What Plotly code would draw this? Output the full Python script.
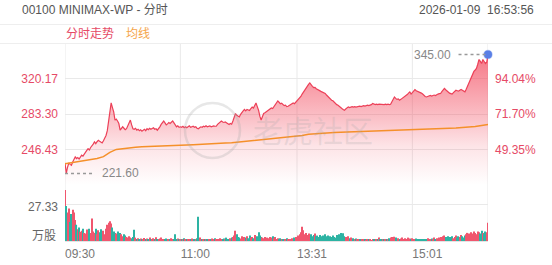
import plotly.graph_objects as go

# ---------------- data ----------------
prev_close = 165.0
price = [
    232.5, 221.6, 228.0, 232.5, 231.0, 230.0, 233.5, 236.0, 238.7, 237.0,
    238.0, 236.5, 239.0, 240.5, 239.5, 242.0, 244.0, 245.5, 247.4, 246.0,
    248.5, 250.0, 252.0, 254.3, 252.5, 254.5, 256.0, 255.0, 254.0, 253.3,
    255.5, 257.8, 261.0, 266.0, 276.9, 286.0, 294.8, 290.0, 285.5, 276.9,
    278.0, 276.0, 273.4, 266.5, 268.5, 270.0, 268.5, 267.0, 268.0, 271.0,
    274.5, 277.0, 272.0, 268.0, 267.5, 268.5, 266.5, 267.5, 266.0, 267.0,
    265.5, 266.5, 267.5, 266.0, 268.0, 267.0, 268.5, 267.5, 268.0, 269.0,
    267.5, 268.0, 266.5, 268.0, 270.0, 272.5, 274.0, 276.0, 274.0, 272.0,
    273.0, 274.5, 273.5, 275.0, 276.0, 274.0, 272.0, 270.0, 271.0, 269.5,
    270.0, 269.5, 270.5, 269.0, 270.0, 269.0, 270.0, 271.0, 269.5, 270.0,
    270.6, 269.5, 270.0, 268.5, 268.0, 269.0, 270.0, 269.5, 270.6, 270.0,
    271.0, 270.0, 270.5, 271.0, 270.0, 270.5, 271.0, 270.6, 270.6, 272.5,
    274.0, 275.5, 276.0, 275.0, 274.5, 275.0, 274.0, 273.0, 272.5, 273.5,
    272.7, 276.0, 280.0, 283.8, 282.0, 281.0, 280.3, 283.0, 285.5, 286.5,
    288.0, 286.5, 288.0, 287.5, 287.0, 289.0, 290.5, 289.5, 292.0, 294.8,
    291.0, 287.2, 281.0, 277.0, 280.5, 283.8, 284.5, 285.5, 286.0, 287.5,
    288.0, 289.5, 289.0, 290.7, 292.5, 294.5, 296.9, 295.5, 294.0, 294.5,
    293.4, 292.0, 292.5, 291.0, 291.4, 292.5, 293.5, 294.0, 294.8, 294.0,
    295.5, 296.5, 297.6, 299.0, 301.5, 304.0, 306.3, 308.0, 310.5, 312.5,
    314.0, 315.6, 313.5, 312.0, 310.8, 311.0, 309.5, 309.0, 308.0, 307.3,
    306.5, 306.0, 305.0, 304.6, 303.0, 301.5, 300.0, 299.0, 297.6, 297.0,
    295.5, 294.0, 293.0, 292.4, 291.0, 290.0, 289.0, 288.0, 287.2, 288.5,
    289.5, 290.7, 290.0, 290.5, 291.0, 290.5, 291.0, 290.5, 291.0, 291.5,
    291.4, 291.0, 291.5, 292.0, 291.5, 292.0, 292.5, 292.0, 292.4, 293.0,
    294.2, 293.5, 293.0, 293.5, 293.0, 293.5, 293.4, 293.0, 293.5, 293.0,
    293.5, 293.0, 293.5, 293.0, 293.4, 296.0, 299.0, 301.0, 299.5, 298.5,
    299.0, 297.6, 298.5, 299.5, 300.0, 301.0, 302.5, 303.5, 305.0, 306.3,
    304.0, 305.5, 307.0, 308.7, 307.5, 307.0, 306.5, 306.3, 305.0, 304.0,
    302.5, 301.5, 301.0, 301.5, 302.0, 302.5, 302.0, 302.8, 303.0, 302.5,
    303.5, 304.0, 304.5, 304.6, 306.5, 308.0, 309.8, 308.5, 307.0, 306.3,
    305.0, 304.5, 304.0, 305.5, 307.0, 308.0, 307.5, 307.0, 308.0, 308.7,
    308.0, 307.5, 306.3, 309.0, 312.0, 315.0, 318.5, 322.0, 325.4, 327.5,
    329.0, 330.6, 335.0, 339.9, 338.0, 335.7, 339.9, 337.5, 335.7, 337.0, 345.0,
]
avg_idx = list(range(0, 331, 5))
avg_val = [
    231.5, 232.5, 233.5, 234.5, 235.5, 237.0, 239.0, 243.5, 246.5, 247.5,
    248.3, 248.8, 249.2, 249.6, 249.9, 250.2, 250.5, 250.8, 251.0, 251.2,
    251.4, 251.6, 251.9, 252.3, 252.7, 253.1, 253.5, 254.2, 255.0, 255.9,
    256.6, 257.0, 257.6, 258.3, 258.9, 259.4, 260.0, 261.0, 262.3, 262.9,
    263.4, 263.8, 264.1, 264.4, 264.6, 264.8, 265.0, 265.2, 265.4, 265.6,
    265.8, 266.0, 266.2, 266.4, 266.5, 266.8, 267.1, 267.4, 267.7, 268.1,
    268.4, 268.7, 269.1, 269.5, 270.3, 271.3, 272.4,
]
volume = [
    37.7, 25.9, 21.0, 24.0, 14.0, 20.0, 23.0, 21.0, 15.5, 12.0,
    8.6, 10.0, 6.9, 7.5, 9.0, 6.0, 5.5, 8.5, 7.0, 9.0,
    6.0, 16.7, 7.0, 6.0, 9.0, 5.0, 8.0, 6.5, 8.6, 6.0,
    7.5, 5.0, 9.0, 12.0, 13.5, 14.5, 13.0, 10.0, 7.0, 6.0,
    5.5, 7.0, 4.5, 6.0, 5.0, 3.5, 5.0, 4.0, 3.0, 2.5,
    3.5, 2.5, 2.0, 3.0, 8.4, 2.5, 1.5, 2.0, 1.2, 1.8,
    1.0, 1.5, 2.2, 1.0, 1.8, 1.2, 2.5, 1.0, 1.5, 2.0,
    1.2, 2.8, 1.5, 1.0, 1.8, 2.5, 1.2, 1.5, 1.0, 1.8,
    1.2, 1.0, 1.5, 2.0, 1.0, 1.5, 5.0, 1.2, 1.8, 1.0,
    1.5, 1.0, 1.2, 2.0, 1.0, 1.5, 0.8, 1.2, 1.0, 1.8,
    1.2, 1.0, 1.5, 2.0, 17.9, 2.5, 1.2, 1.0, 1.5, 0.8,
    1.0, 1.2, 0.8, 1.5, 1.0, 1.8, 1.2, 2.0, 1.0, 1.5,
    1.2, 2.0, 1.5, 1.0, 1.8, 1.2, 2.5, 1.5, 1.0, 2.0,
    2.5, 3.0, 4.0, 7.6, 5.0, 3.0, 2.5, 1.8, 3.5, 2.0,
    3.0, 2.5, 3.5, 2.0, 4.0, 2.5, 3.0, 2.0, 4.5, 3.0,
    3.5, 6.5, 4.0, 3.0, 2.5, 2.0, 3.0, 1.5, 2.5, 2.0,
    3.0, 2.5, 3.5, 2.0, 3.0, 1.5, 2.0, 1.2, 2.0, 1.5,
    1.0, 1.5, 1.2, 2.0, 1.0, 1.5, 1.0, 2.0, 1.5, 2.5,
    3.0, 2.5, 4.0, 5.0, 6.5, 10.6, 8.0, 5.0, 6.0, 4.5,
    5.5, 4.0, 5.0, 3.5, 4.5, 5.5, 3.5, 4.0, 3.0, 4.5,
    3.5, 4.0, 3.0, 5.0, 3.5, 4.0, 2.5, 3.5, 3.0, 4.0,
    3.0, 2.5, 4.5, 3.5, 5.0, 6.0, 4.0, 5.7, 3.5, 3.0,
    2.5, 3.5, 2.0, 2.5, 1.5, 2.0, 1.2, 1.8, 1.0, 1.5,
    1.0, 1.2, 0.8, 1.5, 1.0, 0.6, 1.2, 0.8, 1.0, 0.5,
    0.8, 1.0, 0.6, 1.2, 1.5, 2.5, 1.0, 0.8, 1.2, 1.0,
    0.8, 1.5, 1.0, 2.0, 2.5, 3.0, 2.0, 3.2, 2.5, 1.5,
    2.0, 1.2, 1.8, 2.5, 1.5, 2.0, 1.0, 1.5, 2.5, 1.8,
    1.2, 2.0, 1.5, 1.0, 1.8, 1.2, 1.5, 1.0, 1.2, 1.5,
    1.0, 1.5, 1.2, 2.0, 1.5, 1.0, 1.8, 1.2, 2.5, 1.5,
    2.0, 1.5, 2.5, 3.0, 2.5, 3.5, 4.0, 3.0, 2.5, 3.5,
    3.0, 2.5, 3.5, 2.0, 3.0, 4.0, 2.5, 3.5, 3.0, 4.5,
    3.5, 2.5, 4.0, 5.0, 6.0, 5.5, 4.5, 6.5, 5.5, 7.0,
    6.0, 5.0, 7.0, 6.5, 5.5, 7.5, 6.0, 5.5, 7.0, 6.5, 13.5,
]
price_ticks = [246.43, 283.30, 320.17]
price_range = [209.56, 357.04]
vol_tick = 27.33
vol_max = 39.15
time_ticks = [0, 90, 181, 271]
time_labels = ["09:30", "11:00", "13:31", "15:01"]
n_minutes = 330

# ---------------- style ----------------
W, H = 552, 265
ML, MR, MT, MB = 65, 64, 43, 24
PW, PH = W - ML - MR, H - MT - MB
def px_x(x): return (x - ML) / PW
def px_y(y): return (H - MB - y) / PH

RED = "#ec4058"
LBL_RED = "#e64a66"
ORANGE = "#f5902a"
GRID = "#e9e9e9"
FONT = "Liberation Sans, Arial, Noto Sans CJK SC, sans-serif"
VUP, VDN = "#f0566e", "#2db3a3"

idx = list(range(len(price)))
pct = [(p / prev_close - 1) * 100 for p in price]
pct_ticks = [(p / prev_close - 1) * 100 for p in price_ticks]
pct_range = [(p / prev_close - 1) * 100 for p in price_range]
vcolors = [VUP if i == 0 or price[i] >= price[i - 1] else VDN for i in idx]

imax = max(idx, key=lambda i: price[i])
imin = min(idx, key=lambda i: price[i])
pmax, pmin = price[imax], price[imin]

fig = go.Figure()
fig.add_trace(go.Scatter(
    x=idx, y=price, mode="lines", line=dict(color=RED, width=1.2),
    fill="tozeroy",
    fillgradient=dict(type="vertical", start=price_range[0], stop=pmax,
                      colorscale=[[0, "rgba(242,72,92,0.0)"], [0.3, "rgba(242,72,92,0.15)"],
                                  [0.5, "rgba(242,72,92,0.33)"], [0.9, "rgba(242,72,92,0.66)"],
                                  [1, "rgba(242,72,92,0.75)"]]),
    xaxis="x", yaxis="y", hoverinfo="skip"))
fig.add_trace(go.Scatter(x=avg_idx, y=avg_val, mode="lines",
                         line=dict(color=ORANGE, width=1.5), xaxis="x", yaxis="y", hoverinfo="skip"))
fig.add_trace(go.Scatter(x=[imax], y=[pmax], mode="markers", cliponaxis=False,
                         marker=dict(color="#5b80e6", size=8, line=dict(color="rgba(91,128,230,0.4)", width=1.5)),
                         xaxis="x", yaxis="y", hoverinfo="skip"))
fig.add_trace(go.Scatter(x=idx, y=pct, mode="lines", line=dict(color="rgba(0,0,0,0)", width=0),
                         xaxis="x", yaxis="y3", hoverinfo="skip"))
fig.add_trace(go.Bar(x=idx, y=volume, marker=dict(color=vcolors, line=dict(width=0)),
                     xaxis="x2", yaxis="y2", hoverinfo="skip"))

shapes = []
for v in [0] + time_ticks[1:] + [n_minutes]:
    shapes.append(dict(type="line", xref="x", yref="paper", x0=v, x1=v, y0=0, y1=px_y(43.5),
                       line=dict(color=GRID, width=1), layer="below"))
for yy in (24.5, 43.5):
    shapes.append(dict(type="line", xref="paper", yref="paper", x0=px_x(0), x1=px_x(W),
                       y0=px_y(yy), y1=px_y(yy), line=dict(color="#eeeeee", width=1)))
# max / min dashed markers
shapes.append(dict(type="line", xref="x", yref="y", x0=imax - 23, x1=imax - 2, y0=pmax, y1=pmax,
                   line=dict(color="#999999", width=1.5, dash="3px,3px")))
shapes.append(dict(type="line", xref="x", yref="y", x0=0, x1=imin + 22, y0=pmin, y1=pmin,
                   line=dict(color="#999999", width=1.5, dash="3px,3px")))
# watermark ring
shapes.append(dict(type="circle", xref="paper", yref="paper", x0=px_x(185), x1=px_x(240),
                   y0=px_y(158), y1=px_y(103), line=dict(color="rgba(170,170,170,0.28)", width=2.5)))

ann = [
    dict(text="00100 MINIMAX-WP - 分时", x=px_x(20), y=px_y(9.5), xanchor="left", yanchor="middle",
         font=dict(size=12, color="#555555")),
    dict(text="2026-01-09  16:53:56", x=px_x(536), y=px_y(9.5), xanchor="right", yanchor="middle",
         font=dict(size=12, color="#555555")),
    dict(text="分时走势", x=px_x(64), y=px_y(34), xanchor="left", yanchor="middle",
         font=dict(size=12, color=LBL_RED)),
    dict(text="均线", x=px_x(124), y=px_y(34), xanchor="left", yanchor="middle",
         font=dict(size=12, color="#f5a54a")),
    dict(text="万股", x=px_x(58), y=px_y(235.5), xanchor="right", yanchor="middle",
         font=dict(size=12, color="#666666")),
    dict(text="老虎社区", x=px_x(313), y=px_y(131), xanchor="center", yanchor="middle",
         font=dict(size=30, color="rgba(165,165,165,0.22)")),
]
for a in ann:
    a.update(xref="paper", yref="paper", showarrow=False)
ann.append(dict(text=f"{pmax:.2f}", xref="x", yref="y", x=imax, y=pmax, xshift=-35, xanchor="right",
                yanchor="middle", showarrow=False, font=dict(size=12, color="#888888")))
ann.append(dict(text=f"{pmin:.2f}", xref="x", yref="y", x=0, y=pmin, xshift=35, xanchor="left",
                yanchor="middle", showarrow=False, font=dict(size=12, color="#888888")))

fig.update_layout(
    width=W, height=H, margin=dict(l=ML, r=MR, t=MT, b=MB, autoexpand=False),
    paper_bgcolor="white", plot_bgcolor="white", showlegend=False,
    font=dict(family=FONT, size=12), bargap=0.15, hovermode=False,
    xaxis=dict(domain=[0, 1], anchor="y", range=[0, n_minutes], showticklabels=False,
               showgrid=False, zeroline=False, fixedrange=True, automargin=False),
    yaxis=dict(domain=[px_y(185), 1], anchor="x", range=price_range, tickvals=price_ticks,
               ticktext=[f"{v:.2f}" for v in price_ticks], tickfont=dict(color=LBL_RED, size=12),
               gridcolor=GRID, zeroline=False, ticklabelstandoff=6, automargin=False),
    yaxis3=dict(overlaying="y", side="right", anchor="x", range=pct_range, tickvals=pct_ticks,
                ticktext=[f"{v:.2f}%" for v in pct_ticks], tickfont=dict(color=LBL_RED, size=12),
                showgrid=False, zeroline=False, ticklabelstandoff=6, automargin=False),
    xaxis2=dict(domain=[0, 1], anchor="y2", range=[0, n_minutes], tickvals=time_ticks,
                ticktext=time_labels, tickfont=dict(color="#777777", size=12), showgrid=False,
                zeroline=False, ticklabelshift=15, ticklabelstandoff=2, showline=True,
                linecolor="#e4e4e4", automargin=False),
    yaxis2=dict(domain=[0, px_y(188)], anchor="x2", range=[0, vol_max], tickvals=[vol_tick],
                ticktext=[f"{vol_tick:.2f}"], tickfont=dict(color="#666666", size=12),
                gridcolor=GRID, zeroline=False, ticklabelstandoff=6, ticklabelshift=3,
                automargin=False),
    shapes=shapes, annotations=ann,
)
fig.write_html("out.html")
